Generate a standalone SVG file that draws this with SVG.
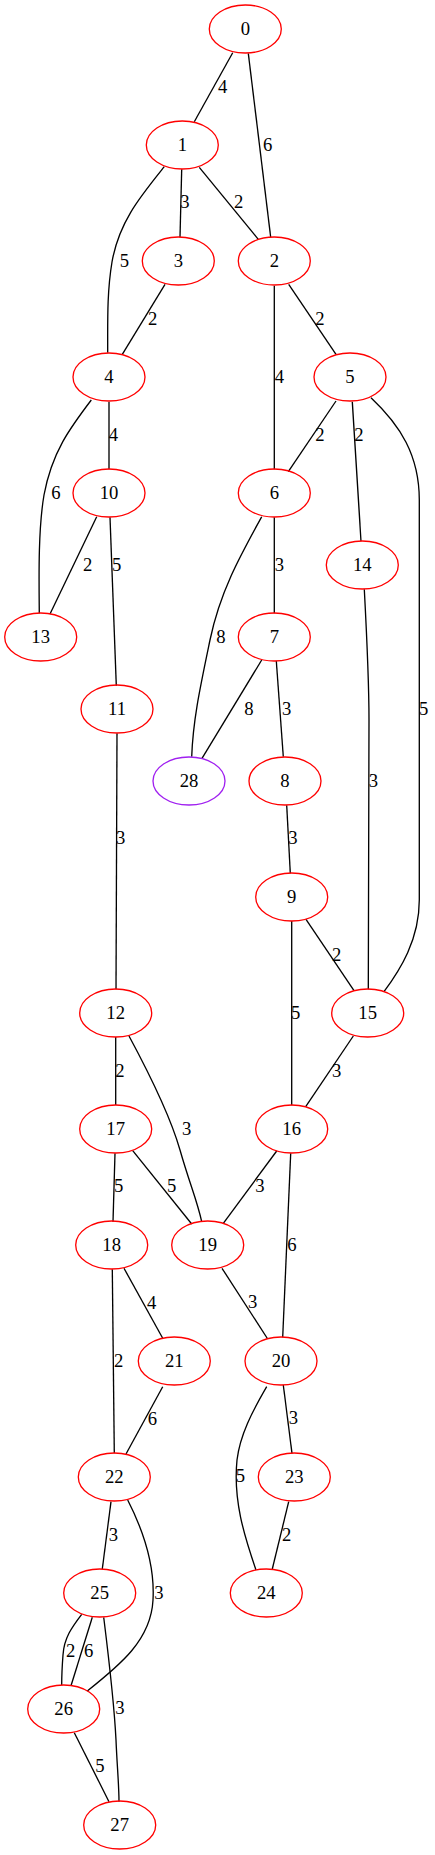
<svg xmlns="http://www.w3.org/2000/svg" width="435" height="1855" viewBox="0 0 435 1855">
<style>
.n ellipse{fill:none;stroke:#ff0000;stroke-width:1.33}
.p ellipse{stroke:#a020f0}
text{font-family:"Liberation Serif","Times New Roman",serif;font-size:18.67px;fill:#000;text-anchor:middle}
#edges path{fill:none;stroke:#000;stroke-width:1.33}
</style>
<rect width="435" height="1855" fill="#fff"/>
<g id="edges">
<path d="M232.7,52.7 L194.3,121.7"/><text x="222.7" y="92.5">4</text>
<path d="M248.3,53.3 L270.7,237.3"/><text x="267.7" y="150.8">6</text>
<path d="M181.7,169.3 L180,237.3"/><text x="185" y="208.2">3</text>
<path d="M199.3,167.3 L258.3,239.3"/><text x="238.7" y="208.2">2</text>
<path d="M164.3,166.7 C140,197 119,222 112,262 C107,292 107.7,320 107.7,352.7"/><text x="124.3" y="266.5">5</text>
<path d="M165,284.3 L122.3,354.3"/><text x="152.7" y="324.8">2</text>
<path d="M274.3,285.7 L274.3,469.3"/><text x="279.3" y="383.2">4</text>
<path d="M288.7,284.3 L336,354.3"/><text x="320" y="324.8">2</text>
<path d="M109,401.7 L109,469.3"/><text x="113.3" y="440.8">4</text>
<path d="M91.3,400 C70,428 52,452 44,495 C38,530 39,580 39.3,613.3"/><text x="56" y="499.2">6</text>
<path d="M336,401 L288.3,471.7"/><text x="320" y="440.8">2</text>
<path d="M352.3,401.7 L361,541"/><text x="359" y="440.5">2</text>
<path d="M371,397.7 C400,425 419.3,455 419.3,500 L419.3,900 C419.3,940 400,970 384,991.7"/><text x="423.7" y="714.8">5</text>
<path d="M274.3,517.3 L274.3,613.3"/><text x="279.3" y="570.8">3</text>
<path d="M261.7,516.7 C240,556 220,592 210,640 C200,688 193,720 191.7,756.7"/><text x="221" y="642.5">8</text>
<path d="M261.7,660 L202,758.3"/><text x="249" y="714.8">8</text>
<path d="M276.3,661 L283.3,756.7"/><text x="286.7" y="714.8">3</text>
<path d="M286.7,805.3 L290.3,873.3"/><text x="293" y="844.2">3</text>
<path d="M96.7,516.7 L50,614"/><text x="87.7" y="570.8">2</text>
<path d="M110,517.3 L116.3,685.7"/><text x="116.7" y="570.8">5</text>
<path d="M117,733.3 L116,989.3"/><text x="120.7" y="844.2">3</text>
<path d="M364.3,589.3 C367,640 369,680 369,720 L368.3,989.3"/><text x="373.3" y="786.5">3</text>
<path d="M306,919.3 L354,990.7"/><text x="336.7" y="960.8">2</text>
<path d="M291.7,921 L291.7,1105.3"/><text x="295.7" y="1018.8">5</text>
<path d="M115.7,1037 L115.7,1105"/><text x="120" y="1076.5">2</text>
<path d="M129,1036 C150,1075 170,1115 180,1150 C190,1185 197,1200 201.7,1221.7"/><text x="186.7" y="1134.8">3</text>
<path d="M353.3,1036 L305.7,1106.7"/><text x="336.7" y="1076.5">3</text>
<path d="M115,1153.3 L113,1221.7"/><text x="118.7" y="1192.2">5</text>
<path d="M132.7,1150.7 L191.7,1224"/><text x="171.7" y="1192.2">5</text>
<path d="M276.7,1151 L223.3,1223.3"/><text x="260" y="1192.2">3</text>
<path d="M290.7,1153.3 L282.7,1337.3"/><text x="292" y="1250.5">6</text>
<path d="M124,1268.3 L162.7,1338.3"/><text x="151.7" y="1308.8">4</text>
<path d="M112.3,1269.3 L114.3,1453.3"/><text x="118.7" y="1366.5">2</text>
<path d="M222,1268.3 L267.7,1339"/><text x="252.7" y="1308.2">3</text>
<path d="M162.7,1386.7 L126,1454"/><text x="152.3" y="1424.8">6</text>
<path d="M283.3,1385 L292,1453.3"/><text x="293.3" y="1424.2">3</text>
<path d="M266.7,1386.7 C252,1412 240,1435 237,1460 C233,1500 244,1535 256,1570"/><text x="240.3" y="1482.2">5</text>
<path d="M288.7,1501.7 L272.3,1569"/><text x="286.7" y="1540.8">2</text>
<path d="M111,1501.7 L102.3,1569"/><text x="113.3" y="1540.8">3</text>
<path d="M127.7,1500 C143,1530 155,1565 153,1600 C151,1640 120,1665 87.3,1691"/><text x="159" y="1598.8">3</text>
<path d="M81.7,1614.3 C72,1627 64,1638 63,1655 C62,1668 61.7,1676 61.7,1685"/><text x="70.7" y="1657.2">2</text>
<path d="M92.3,1617.3 L71,1685.7"/><text x="88.7" y="1657.2">6</text>
<path d="M103.7,1617.3 C109,1660 114,1700 116,1740 C117,1765 119,1785 119,1801.7"/><text x="120" y="1714.2">3</text>
<path d="M74.3,1732.7 L109,1801.7"/><text x="100" y="1772.2">5</text>
</g>
<g id="n0" class="n"><ellipse cx="245.3" cy="29" rx="36" ry="24"/><text x="245.3" y="35">0</text></g>
<g id="n1" class="n"><ellipse cx="182.3" cy="145" rx="36" ry="24"/><text x="182.3" y="151">1</text></g>
<g id="n2" class="n"><ellipse cx="274.3" cy="261" rx="36" ry="24"/><text x="274.3" y="267">2</text></g>
<g id="n3" class="n"><ellipse cx="178.3" cy="261" rx="36" ry="24"/><text x="178.3" y="267">3</text></g>
<g id="n4" class="n"><ellipse cx="109" cy="377" rx="36" ry="24"/><text x="109" y="383">4</text></g>
<g id="n5" class="n"><ellipse cx="350" cy="377" rx="36" ry="24"/><text x="350" y="383">5</text></g>
<g id="n6" class="n"><ellipse cx="274.3" cy="493" rx="36" ry="24"/><text x="274.3" y="499">6</text></g>
<g id="n7" class="n"><ellipse cx="274.3" cy="637" rx="36" ry="24"/><text x="274.3" y="643">7</text></g>
<g id="n8" class="n"><ellipse cx="285" cy="781" rx="36" ry="24"/><text x="285" y="787">8</text></g>
<g id="n9" class="n"><ellipse cx="291.7" cy="897" rx="36" ry="24"/><text x="291.7" y="903">9</text></g>
<g id="n10" class="n"><ellipse cx="109" cy="493" rx="36" ry="24"/><text x="109" y="499">10</text></g>
<g id="n11" class="n"><ellipse cx="117" cy="709" rx="36" ry="24"/><text x="117" y="715">11</text></g>
<g id="n12" class="n"><ellipse cx="115.7" cy="1013" rx="36" ry="24"/><text x="115.7" y="1019">12</text></g>
<g id="n13" class="n"><ellipse cx="40.7" cy="637" rx="36" ry="24"/><text x="40.7" y="643">13</text></g>
<g id="n14" class="n"><ellipse cx="362.3" cy="565" rx="36" ry="24"/><text x="362.3" y="571">14</text></g>
<g id="n15" class="n"><ellipse cx="367.7" cy="1013" rx="36" ry="24"/><text x="367.7" y="1019">15</text></g>
<g id="n16" class="n"><ellipse cx="291.7" cy="1129" rx="36" ry="24"/><text x="291.7" y="1135">16</text></g>
<g id="n17" class="n"><ellipse cx="115.7" cy="1129" rx="36" ry="24"/><text x="115.7" y="1135">17</text></g>
<g id="n18" class="n"><ellipse cx="111.7" cy="1245" rx="36" ry="24"/><text x="111.7" y="1251">18</text></g>
<g id="n19" class="n"><ellipse cx="207.7" cy="1245" rx="36" ry="24"/><text x="207.7" y="1251">19</text></g>
<g id="n20" class="n"><ellipse cx="281" cy="1361" rx="36" ry="24"/><text x="281" y="1367">20</text></g>
<g id="n21" class="n"><ellipse cx="174.3" cy="1361" rx="36" ry="24"/><text x="174.3" y="1367">21</text></g>
<g id="n22" class="n"><ellipse cx="114.3" cy="1477" rx="36" ry="24"/><text x="114.3" y="1483">22</text></g>
<g id="n23" class="n"><ellipse cx="294.3" cy="1477" rx="36" ry="24"/><text x="294.3" y="1483">23</text></g>
<g id="n24" class="n"><ellipse cx="266.3" cy="1593" rx="36" ry="24"/><text x="266.3" y="1599">24</text></g>
<g id="n25" class="n"><ellipse cx="99.7" cy="1593" rx="36" ry="24"/><text x="99.7" y="1599">25</text></g>
<g id="n26" class="n"><ellipse cx="63.7" cy="1709" rx="36" ry="24"/><text x="63.7" y="1715">26</text></g>
<g id="n27" class="n"><ellipse cx="119.7" cy="1825" rx="36" ry="24"/><text x="119.7" y="1831">27</text></g>
<g id="n28" class="n p"><ellipse cx="189" cy="781" rx="36" ry="24"/><text x="189" y="787">28</text></g>
</svg>
